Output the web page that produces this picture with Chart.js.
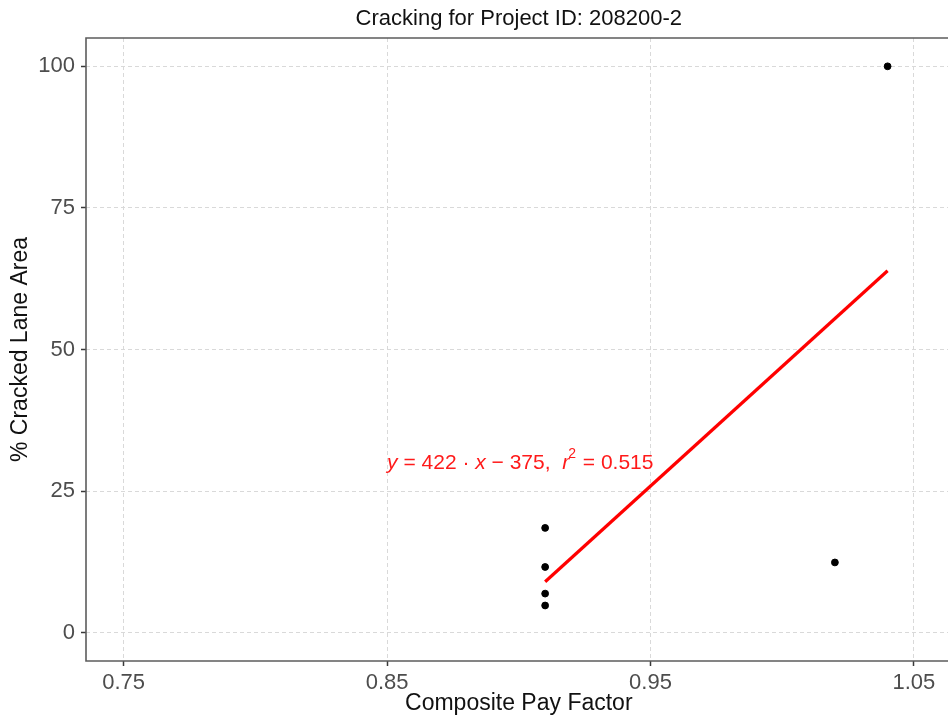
<!DOCTYPE html>
<html><head><meta charset="utf-8">
<script src="https://cdn.jsdelivr.net/npm/chart.js@4"></script>
<style>html,body{margin:0;padding:0;background:#fff;overflow:hidden;width:948px;height:719px;} canvas{display:block;}</style>
</head><body>
<canvas id="c" width="956" height="719"></canvas>
<script>
const chartTitle = 'Cracking for Project ID: 208200-2';
const xTitle = 'Composite Pay Factor';
const yTitle = '% Cracked Lane Area';
const payFactor = [0.91, 0.91, 0.91, 0.91, 1.02, 1.04];
const crackedPct = [18.5, 11.6, 6.9, 4.8, 12.4, 100];
const fitX = [0.91, 1.04];
const fitY = [9.0, 63.9];
const xTicks = [0.75, 0.85, 0.95, 1.05];
const yTicks = [0, 25, 50, 75, 100];
const eqAnchor = [0.85, 30];
const eqParts = [
  {t: 'y', it: true}, {t: ' = 422 \u00B7 '}, {t: 'x', it: true}, {t: ' \u2212 375,  '},
  {t: 'r', it: true}, {t: '2', sup: true}, {t: ' = 0.515'}
];

const FONT = '"Liberation Sans", Arial, sans-serif';

const framePlugin = {
  id: 'frame',
  afterDraw(chart) {
    const {ctx, chartArea: a, scales} = chart;
    ctx.save();
    ctx.strokeStyle = '#5c5c5c';
    ctx.lineWidth = 1.6;
    ctx.beginPath();
    ctx.moveTo(a.right, a.top);
    ctx.lineTo(a.left, a.top);
    ctx.lineTo(a.left, a.bottom);
    ctx.lineTo(a.right, a.bottom);
    ctx.stroke();
    // equation label
    let x = scales.x.getPixelForValue(eqAnchor[0]);
    const y = scales.y.getPixelForValue(eqAnchor[1]);
    ctx.fillStyle = '#ff1a1a';
    ctx.textBaseline = 'middle';
    ctx.textAlign = 'left';
    for (const p of eqParts) {
      if (p.sup) {
        ctx.font = '14px ' + FONT;
        ctx.fillText(p.t, x - 1, y - 9);
      } else {
        ctx.font = (p.it ? 'italic ' : '') + '21px ' + FONT;
        ctx.fillText(p.t, x, y);
      }
      x += ctx.measureText(p.t).width;
    }
    ctx.restore();
  }
};

new Chart(document.getElementById('c'), {
  type: 'scatter',
  data: {
    datasets: [
      {
        label: 'data',
        data: payFactor.map((v, i) => ({x: v, y: crackedPct[i]})),
        backgroundColor: '#000',
        borderColor: '#000',
        pointRadius: 3.4,
        pointHoverRadius: 3.4,
        order: 2
      },
      {
        type: 'line',
        label: 'fit',
        data: fitX.map((v, i) => ({x: v, y: fitY[i]})),
        borderColor: '#ff0000',
        borderWidth: 3.2,
        pointRadius: 0,
        fill: false,
        order: 1
      }
    ]
  },
  options: {
    responsive: false,
    animation: false,
    devicePixelRatio: 1,
    layout: {padding: {left: 0, right: 0, top: 0, bottom: 0}},
    plugins: {legend: {display: false}, tooltip: {enabled: false}, title: {display: false}},
    scales: {
      x: {
        type: 'linear', position: 'bottom', min: 0.7357, max: 1.0643,
        afterBuildTicks(s) { s.ticks = xTicks.map(v => ({value: v})); },
        afterFit(s) { s.height = 58; },
        grid: {color: '#d9d9d9', lineWidth: 1, tickLength: 5, tickColor: '#3a3a3a', tickWidth: 1.5, tickBorderDash: []},
        border: {display: false, dash: [4, 3]},
        ticks: {color: '#4d4d4d', padding: 4, font: {family: FONT, size: 22}, maxRotation: 0,
          callback: v => Number(v).toFixed(2)},
        title: {display: true, text: xTitle, color: '#111', font: {family: FONT, size: 23}, padding: {top: 0, bottom: 2}}
      },
      xTop: {
        type: 'linear', position: 'top', display: true,
        grid: {display: false, drawTicks: false}, border: {display: false},
        ticks: {display: false},
        afterFit(s) { s.height = 38; },
        title: {display: true, text: chartTitle, color: '#111', font: {family: FONT, size: 22}, padding: {top: 6, bottom: 0}}
      },
      y: {
        type: 'linear', position: 'left', min: -5, max: 105,
        afterBuildTicks(s) { s.ticks = yTicks.map(v => ({value: v})); },
        afterFit(s) { s.width = 86; },
        grid: {color: '#d9d9d9', lineWidth: 1, tickLength: 5, tickColor: '#3a3a3a', tickWidth: 1.5, tickBorderDash: []},
        border: {display: false, dash: [4, 3]},
        ticks: {color: '#4d4d4d', padding: 6, font: {family: FONT, size: 22}},
        title: {display: true, text: yTitle, color: '#111', font: {family: FONT, size: 23}, padding: {top: 7, bottom: 0}}
      }
    }
  },
  plugins: [framePlugin]
});
</script>
</body></html>
